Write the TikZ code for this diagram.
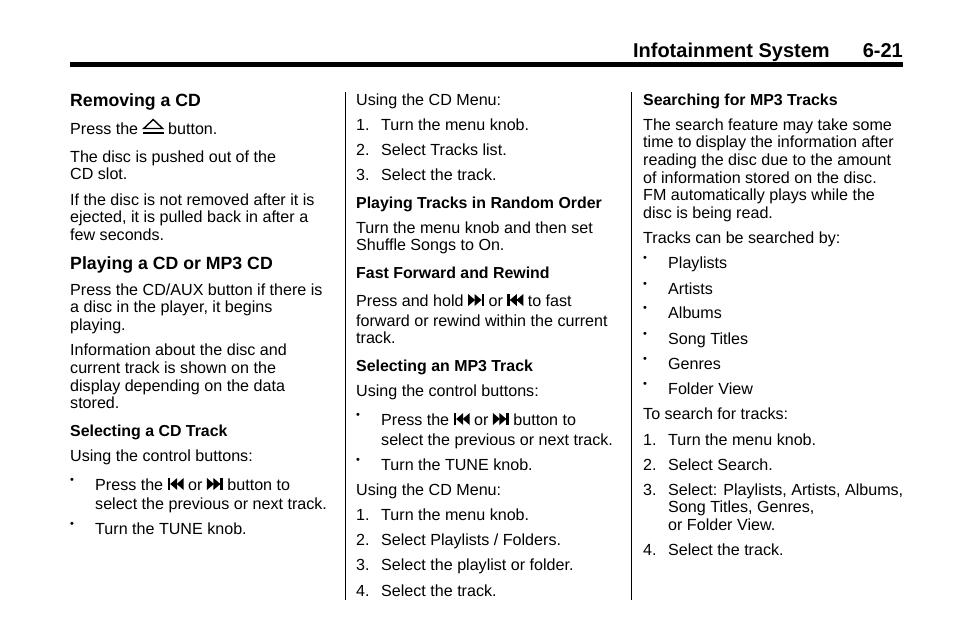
\documentclass[tikz,border=0pt]{standalone}
\usepackage{fontspec}
\setmainfont{Liberation Sans}
\newcommand{\fwdicon}{\tikz[baseline=0pt,x=1pt,y=1pt]{\fill (0,0)--(7,6)--(0,12)--cycle; \fill (6.5,0)--(13.5,6)--(6.5,12)--cycle; \fill (13.5,0) rectangle (16,12);}}
\newcommand{\backicon}{\tikz[baseline=0pt,x=1pt,y=1pt]{\fill (0,0) rectangle (2.5,12); \fill (9.5,0)--(2.5,6)--(9.5,12)--cycle; \fill (16,0)--(9,6)--(16,12)--cycle;}}
\newcommand{\ejicon}{\tikz[baseline=0pt,x=1pt,y=1pt]{\draw[line width=1.4pt] (1.5,5.5)--(11,14.5)--(20.5,5.5)--cycle; \fill (0.5,0) rectangle (21.5,2.2);}}
\newcommand{\bul}{\raisebox{3pt}{\fontsize{11}{11}\selectfont•}}
\newcommand{\num}[1]{\makebox[25pt][l]{#1}}
\begin{document}
\begin{tikzpicture}[x=1pt,y=-1pt,
  t/.style={anchor=base west,inner sep=0pt,font=\fontsize{16.1}{18}\selectfont},
  h/.style={t,font=\fontsize{15.9}{18}\selectfont\bfseries},
  hb/.style={t,font=\fontsize{17.7}{20}\selectfont\bfseries}]
\useasboundingbox (0,0) rectangle (954,638);
\node[anchor=base east,inner sep=0pt,font=\fontsize{20}{22}\selectfont\bfseries] (hd) at (903,57) {Infotainment System\hspace{33pt}6-21};
\fill (70,62) rectangle (903,66.5);
\draw[line width=1pt] (345,92)--(345,600);
\draw[line width=1pt] (631,92)--(631,600);
% left column
\node[hb] (l1) at (70,106) {Removing a CD};
\node[t] (l2) at (70,134) {Press the \ejicon{} button.};
\node[t] (l3) at (70,162) {The disc is pushed out of the};
\node[t] (l4) at (70,179) {CD slot.};
\node[t] (l5) at (70,205) {If the disc is not removed after it is};
\node[t] (l6) at (70,222) {ejected, it is pulled back in after a};
\node[t] (l7) at (70,240) {few seconds.};
\node[hb] (l8) at (70,269) {Playing a CD or MP3 CD};
\node[t] (l9) at (70,295) {Press the CD/AUX button if there is};
\node[t] (l10) at (70,312) {a disc in the player, it begins};
\node[t] (l11) at (70,330) {playing.};
\node[t] (l12) at (70,355) {Information about the disc and};
\node[t] (l13) at (70,373) {current track is shown on the};
\node[t] (l14) at (70,391) {display depending on the data};
\node[t] (l15) at (70,408) {stored.};
\node[h] (l16) at (70,436) {Selecting a CD Track};
\node[t] (l17) at (70,461) {Using the control buttons:};
\node[t] (l18b) at (70,486) {\bul};
\node[t] (l18) at (95,490) {Press the \backicon{} or \fwdicon{} button to};
\node[t] (l19) at (95,509) {select the previous or next track.};
\node[t] (l20b) at (70,530) {\bul};
\node[t] (l20) at (95,534) {Turn the TUNE knob.};
% middle column
\node[t] (m1) at (356,105) {Using the CD Menu:};
\node[t] (m2) at (356,130) {\num{1.}Turn the menu knob.};
\node[t] (m3) at (356,155) {\num{2.}Select Tracks list.};
\node[t] (m4) at (356,180) {\num{3.}Select the track.};
\node[h] (m5) at (356,208) {Playing Tracks in Random Order};
\node[t] (m6) at (356,233) {Turn the menu knob and then set};
\node[t] (m7) at (356,250) {Shuffle Songs to On.};
\node[h] (m8) at (356,278) {Fast Forward and Rewind};
\node[t] (m9) at (356,306) {Press and hold \fwdicon{} or \backicon{} to fast};
\node[t] (m10) at (356,326) {forward or rewind within the current};
\node[t] (m11) at (356,343) {track.};
\node[h] (m12) at (356,371) {Selecting an MP3 Track};
\node[t] (m13) at (356,396) {Using the control buttons:};
\node[t] (m14b) at (356,421) {\bul};
\node[t] (m14) at (381,425) {Press the \backicon{} or \fwdicon{} button to};
\node[t] (m15) at (381,445) {select the previous or next track.};
\node[t] (m16b) at (356,466) {\bul};
\node[t] (m16) at (381,470) {Turn the TUNE knob.};
\node[t] (m17) at (356,495) {Using the CD Menu:};
\node[t] (m18) at (356,520) {\num{1.}Turn the menu knob.};
\node[t] (m19) at (356,545) {\num{2.}Select Playlists / Folders.};
\node[t] (m20) at (356,570) {\num{3.}Select the playlist or folder.};
\node[t] (m21) at (356,596) {\num{4.}Select the track.};
% right column
\node[h] (r1) at (643,105) {Searching for MP3 Tracks};
\node[t] (r2) at (643,130) {The search feature may take some};
\node[t] (r3) at (643,147) {time to display the information after};
\node[t] (r4) at (643,165) {reading the disc due to the amount};
\node[t] (r5) at (643,183) {of information stored on the disc.};
\node[t] (r6) at (643,200) {FM automatically plays while the};
\node[t] (r7) at (643,218) {disc is being read.};
\node[t] (r8) at (643,243) {Tracks can be searched by:};
\node[t] (r9b) at (643,264) {\bul};
\node[t] (r9) at (668,268) {Playlists};
\node[t] (r10b) at (643,290) {\bul};
\node[t] (r10) at (668,294) {Artists};
\node[t] (r11b) at (643,314) {\bul};
\node[t] (r11) at (668,318) {Albums};
\node[t] (r12b) at (643,340) {\bul};
\node[t] (r12) at (668,344) {Song Titles};
\node[t] (r13b) at (643,365) {\bul};
\node[t] (r13) at (668,369) {Genres};
\node[t] (r14b) at (643,390) {\bul};
\node[t] (r14) at (668,394) {Folder View};
\node[t] (r15) at (643,419) {To search for tracks:};
\node[t] (r16) at (643,445) {\num{1.}Turn the menu knob.};
\node[t] (r17) at (643,470) {\num{2.}Select Search.};
\node[t] (r18) at (643,495) {\num{3.}Select: Playlists, Artists, Albums,};
\node[t] (r19) at (668,512) {Song Titles, Genres,};
\node[t] (r20) at (668,530) {or Folder View.};
\node[t] (r21) at (643,555) {\num{4.}Select the track.};
\end{tikzpicture}
\end{document}
